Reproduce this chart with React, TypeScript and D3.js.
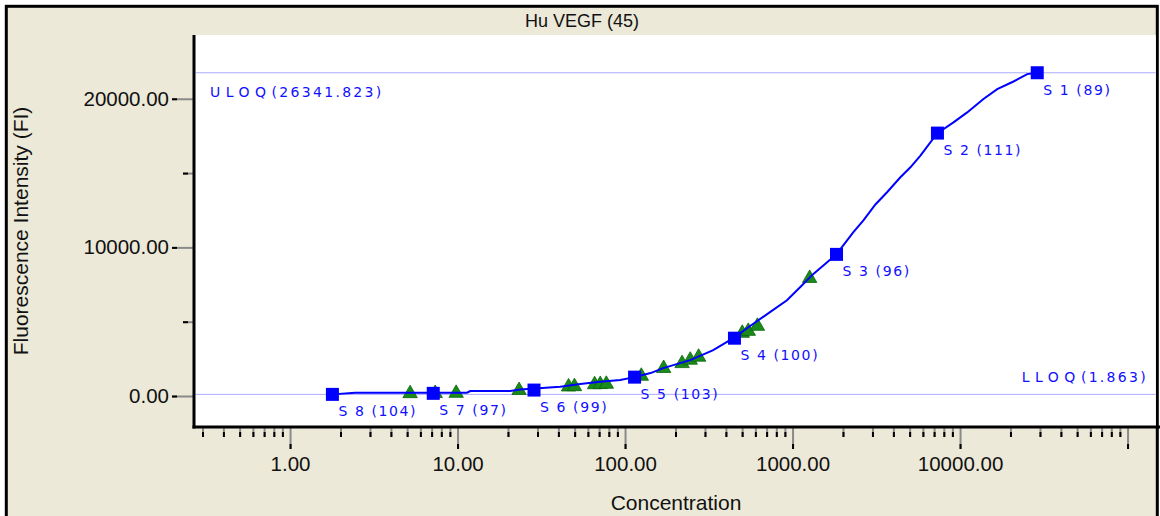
import React, { useEffect, useRef } from 'react';
import * as d3 from 'd3';

// standards (blue squares)
const stdNames = ['S 1 (89)', 'S 2 (111)', 'S 3 (96)', 'S 4 (100)', 'S 5 (103)', 'S 6 (99)', 'S 7 (97)', 'S 8 (104)'];
const stdConc = [28900, 7330, 1830, 450, 114, 28.6, 7.16, 1.79];
const stdFI = [21750, 17690, 9530, 3890, 1270, 400, 180, 110];

// unknown samples (green triangles)
const sampleConc = [5.21, 7.35, 9.81, 23.3, 46.0, 49.9, 65.8, 71.1, 77.3, 125, 170, 219, 245, 275, 501, 544, 617, 1265];
const sampleFI = [170, 180, 190, 380, 620, 640, 770, 780, 800, 1340, 1860, 2190, 2420, 2620, 4230, 4360, 4700, 7920];

// fitted curve
const fitConc = [1.79, 2.45, 11.4, 11.9, 20.6, 23.7, 41.0, 54.0, 71.1, 93.6, 112, 142, 169, 245, 336, 443, 586, 737, 926, 1113, 1337, 1828, 2308, 2649, 3124, 3666, 4404, 5055, 5800, 7295, 9135, 11030, 13800, 16670, 20860, 25180, 28900];
const fitFI = [110, 221, 221, 335, 335, 436, 624, 805, 960, 1074, 1255, 1544, 1879, 2416, 3087, 3893, 4879, 5658, 6443, 7336, 8235, 9530, 11027, 11812, 12886, 13711, 14718, 15389, 16174, 17671, 18409, 19081, 19980, 20651, 21161, 21658, 21750];

const uloqFI = 21750;
const uloqText = ['ULOQ', '(26341.823)'];
const lloqFI = 110;
const lloqText = ['LLOQ', '(1.863)'];

const xMajor = [1, 10, 100, 1000, 10000, 100000];
const xLabels = ['1.00', '10.00', '100.00', '1000.00', '10000.00', ''];
const yMajor = [0, 10000, 20000];
const yLabels = ['0.00', '10000.00', '20000.00'];
const yMinor = [5000, 15000];

const title = 'Hu VEGF (45)';
const xTitle = 'Concentration';
const yTitle = 'Fluorescence Intensity (FI)';

export default function App() {
  const ref = useRef<SVGSVGElement>(null);

  useEffect(() => {
    const svg = d3.select(ref.current);
    svg.selectAll('*').remove();

    const W = 1160, H = 516;
    const left = 194, right = 1158, top = 35, bottom = 427;
    const sans = '"Liberation Sans", Arial, sans-serif';
    const lblFont = '"DejaVu Sans", Verdana, sans-serif';
    const blue = '#1010ff';

    const x = d3.scaleLog().domain([0.267, 152000]).range([left, right]);
    const y = d3.scaleLinear().domain([-2085, 24290]).range([bottom, top]);

    // frame
    svg.append('rect')
      .attr('x', 0).attr('y', 0).attr('width', W).attr('height', H)
      .attr('fill', '#fff');
    svg.append('rect')
      .attr('x', 6.3).attr('y', 6.3).attr('width', 1151).attr('height', 600)
      .attr('fill', '#ECE9D8').attr('stroke', '#000').attr('stroke-width', 3);
    svg.append('rect')
      .attr('x', left).attr('y', top).attr('width', 1155.8 - left).attr('height', bottom - top)
      .attr('fill', '#fff');

    svg.append('text')
      .attr('x', 582).attr('y', 27).attr('text-anchor', 'middle')
      .style('font-family', sans).style('font-size', '18px').attr('fill', '#111')
      .text(title);

    // x axis
    const xMinor = x.ticks().filter(t => xMajor.indexOf(t) < 0);
    const gxMinor = svg.append('g').attr('transform', `translate(0,${bottom})`)
      .call(d3.axisBottom(x).tickValues(xMinor).tickSize(10).tickFormat(() => ''));
    const gx = svg.append('g').attr('transform', `translate(0,${bottom})`)
      .call(d3.axisBottom(x).tickValues(xMajor).tickSize(22).tickPadding(7)
        .tickFormat((d, i) => xLabels[i]));

    // y axis
    const gyMinor = svg.append('g').attr('transform', `translate(${left},0)`)
      .call(d3.axisLeft(y).tickValues(yMinor).tickSize(11).tickFormat(() => ''));
    const gy = svg.append('g').attr('transform', `translate(${left},0)`)
      .call(d3.axisLeft(y).tickValues(yMajor).tickSize(22).tickPadding(3)
        .tickFormat((d, i) => yLabels[i]));

    [gx, gxMinor, gy, gyMinor].forEach(g => {
      g.select('.domain').remove();
      g.selectAll('.tick line').attr('stroke', '#8a8a8a').attr('stroke-width', 2);
      g.selectAll('.tick text')
        .style('font-family', sans).style('font-size', '20.5px').attr('fill', '#111');
    });
    // black tips on the ticks
    [gx, gxMinor].forEach(g => {
      g.selectAll('.tick').append('line')
        .attr('y1', function () { return +d3.select(this.parentNode as any).select('line').attr('y2') - 5; })
        .attr('y2', function () { return +d3.select(this.parentNode as any).select('line').attr('y2'); })
        .attr('stroke', '#000').attr('stroke-width', 2);
    });
    [gy, gyMinor].forEach(g => {
      g.selectAll('.tick').append('line')
        .attr('x1', function () { return +d3.select(this.parentNode as any).select('line').attr('x2'); })
        .attr('x2', function () { return +d3.select(this.parentNode as any).select('line').attr('x2') + 5; })
        .attr('stroke', '#000').attr('stroke-width', 2);
    });

    svg.append('line')
      .attr('x1', left).attr('x2', left).attr('y1', top).attr('y2', bottom + 1.5)
      .attr('stroke', '#000').attr('stroke-width', 3);
    svg.append('line')
      .attr('x1', left - 1.5).attr('x2', W).attr('y1', bottom).attr('y2', bottom)
      .attr('stroke', '#000').attr('stroke-width', 3);

    svg.append('text')
      .attr('x', (left + right) / 2).attr('y', 510).attr('text-anchor', 'middle')
      .style('font-family', sans).style('font-size', '21px').attr('fill', '#111')
      .text(xTitle);
    svg.append('text')
      .attr('transform', `translate(28,${(top + bottom) / 2}) rotate(-90)`)
      .attr('text-anchor', 'middle')
      .style('font-family', sans).style('font-size', '21px').attr('fill', '#111')
      .text(yTitle);

    // ULOQ / LLOQ
    [uloqFI, lloqFI].forEach(v => {
      svg.append('line')
        .attr('x1', left + 1.5).attr('x2', 1155.8).attr('y1', y(v)).attr('y2', y(v))
        .attr('stroke', '#5a5aff').attr('stroke-width', 1).attr('stroke-dasharray', '1,1');
    });
    const qText = (parts: string[], xx: number, yy: number, anchor: string) => {
      const t = svg.append('text').attr('x', xx).attr('y', yy).attr('text-anchor', anchor)
        .style('font-family', lblFont).style('font-size', '14px').attr('fill', blue);
      t.append('tspan').style('letter-spacing', '5.5px').text(parts[0]);
      t.append('tspan').style('letter-spacing', '2.3px').text(parts[1]);
    };
    qText(uloqText, 210, y(uloqFI) + 24, 'start');
    qText(lloqText, 1148, y(lloqFI) - 12, 'end');

    // samples
    const tri = d3.symbol().type(d3.symbolTriangle).size(90);
    svg.append('g').selectAll('path')
      .data(sampleConc)
      .enter()
      .append('path')
      .attr('d', tri)
      .attr('transform', (d, i) => `translate(${x(d)},${y(sampleFI[i])})`)
      .attr('fill', '#1a8a1a').attr('stroke', '#0a650a').attr('stroke-width', 0.8);

    // fitted curve
    const line = d3.line<number>()
      .x(d => x(d))
      .y((d, i) => y(fitFI[i]));
    svg.append('path')
      .datum(fitConc)
      .attr('d', line)
      .attr('fill', 'none').attr('stroke', '#0000ff').attr('stroke-width', 2);

    // standards
    svg.append('g').selectAll('rect')
      .data(stdConc)
      .enter()
      .append('rect')
      .attr('x', d => x(d) - 6.5)
      .attr('y', (d, i) => y(stdFI[i]) - 6.5)
      .attr('width', 13).attr('height', 13)
      .attr('fill', '#0000ff');
    svg.append('g').selectAll('text')
      .data(stdConc)
      .enter()
      .append('text')
      .attr('x', d => x(d) + 6)
      .attr('y', (d, i) => y(stdFI[i]) + 22)
      .style('font-family', lblFont).style('font-size', '14px').style('letter-spacing', '1.6px')
      .attr('fill', blue)
      .text((d, i) => stdNames[i]);
  }, []);

  return (
    <svg ref={ref} width={1160} height={516}
      style={{ position: 'absolute', left: 0, top: 0, display: 'block' }} />
  );
}
